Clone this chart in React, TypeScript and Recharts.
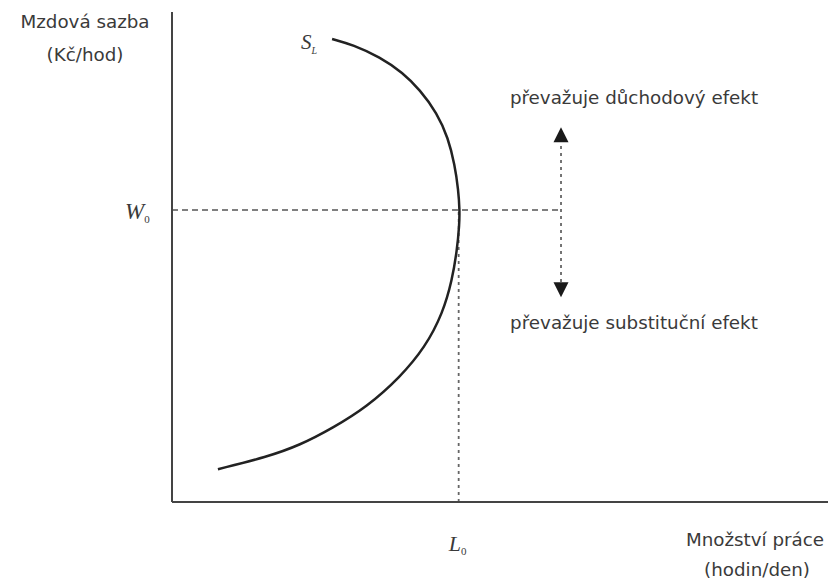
import { ComposedChart, Line, XAxis, YAxis, ReferenceLine, ReferenceDot } from 'recharts'

// backward-bending labour supply curve S_L (x = hours, y = wage)
const CURVE_X = [7.0, 14.5, 19.5, 24.5, 29.7, 34.8, 38.6, 41.3, 42.7, 43.45, 43.8, 43.85, 43.65, 43.1, 42.1, 40.4, 37.8, 35.2, 31.7, 27.6, 24.4]
const CURVE_Y = [6.7, 9.2, 11.6, 15.1, 19.4, 25.5, 31.6, 38.6, 45.3, 51.4, 56.5, 59.6, 63.7, 68.8, 74.3, 79.4, 84.1, 87.6, 90.8, 93.3, 94.5]

const W0 = 59.6
const L0 = 43.7
const ARROW_X = 59.3
const ARROW_TOP = 76.5
const ARROW_BOTTOM = 41.8
const ARROW_HEAD = 3.1

const curve = CURVE_X.map((x, i) => ({ x, y: CURVE_Y[i] }))

const INK = '#3a3a3a'
const LINE = '#222'
const SANS = '"DejaVu Sans", sans-serif'
const SERIF = '"Liberation Serif", serif'

const Triangle = ({ cx, cy, up }: { cx?: number; cy?: number; up: boolean }) => {
  if (cx == null || cy == null) return null
  const h = 15
  const w = 7.5
  const d = up
    ? `M${cx},${cy} L${cx - w},${cy + h} L${cx + w},${cy + h} Z`
    : `M${cx},${cy} L${cx - w},${cy - h} L${cx + w},${cy - h} Z`
  return <path d={d} fill="#1a1a1a" />
}

const XTick = ({ x, y }: any) => (
  <text x={x - 10} y={y + 41} fontFamily={SERIF} fontStyle="italic" fontSize={22} fill={INK}>
    L
    <tspan fontSize={11} dy={4} fontStyle="normal">0</tspan>
  </text>
)

const YTick = ({ x, y }: any) => (
  <text x={x - 39} y={y + 9} fontFamily={SERIF} fontStyle="italic" fontSize={23} fill={INK}>
    W
    <tspan fontSize={11} dy={4} fontStyle="normal">0</tspan>
  </text>
)

const text = (left: number, top: number, w: number, s: string) => (
  <div
    style={{
      position: 'absolute',
      left,
      top,
      width: w,
      textAlign: 'center',
      fontFamily: SANS,
      fontSize: 18.3,
      color: INK,
      lineHeight: '20px',
      whiteSpace: 'nowrap',
    }}
  >
    {s}
  </div>
)

export default function App() {
  return (
    <div style={{ position: 'absolute', left: 0, top: 0, width: 828, height: 581, background: '#fff' }}>
      <ComposedChart width={828} height={581} margin={{ top: 12, right: 0, left: 0, bottom: 0 }}>
        <XAxis
          type="number"
          dataKey="x"
          domain={[0, 100]}
          ticks={[L0]}
          tick={<XTick />}
          tickLine={false}
          axisLine={{ stroke: '#444', strokeWidth: 2 }}
          height={79}
        />
        <YAxis
          type="number"
          domain={[0, 100]}
          ticks={[W0]}
          tick={<YTick />}
          tickLine={false}
          axisLine={{ stroke: '#444', strokeWidth: 2 }}
          width={172}
        />
        <ReferenceLine
          segment={[{ x: 0, y: W0 }, { x: ARROW_X, y: W0 }]}
          stroke="#555"
          strokeWidth={1.5}
          strokeDasharray="6 4"
        />
        <ReferenceLine
          segment={[{ x: L0, y: 0 }, { x: L0, y: W0 }]}
          stroke="#666"
          strokeWidth={1.8}
          strokeDasharray="3 4"
        />
        <ReferenceLine
          segment={[{ x: ARROW_X, y: ARROW_BOTTOM + ARROW_HEAD }, { x: ARROW_X, y: ARROW_TOP - ARROW_HEAD }]}
          stroke="#666"
          strokeWidth={1.8}
          strokeDasharray="3 4"
        />
        <ReferenceDot x={ARROW_X} y={ARROW_TOP} shape={(p: any) => <Triangle {...p} up />} />
        <ReferenceDot x={ARROW_X} y={ARROW_BOTTOM} shape={(p: any) => <Triangle {...p} up={false} />} />
        <Line
          data={curve}
          dataKey="y"
          type="basis"
          stroke={LINE}
          strokeWidth={2.5}
          dot={false}
          activeDot={false}
          isAnimationActive={false}
        />
      </ComposedChart>

      {text(5, 12, 160, 'Mzdová sazba')}
      {text(5, 45, 160, '(Kč/hod)')}
      {text(484, 88, 300, 'převažuje důchodový efekt')}
      {text(484, 313, 300, 'převažuje substituční efekt')}
      {text(675, 530, 160, 'Množství práce')}
      {text(677, 560, 160, '(hodin/den)')}

      <div style={{ position: 'absolute', left: 301, top: 30, fontFamily: SERIF, fontStyle: 'italic', fontSize: 21, color: INK }}>
        S<span style={{ fontSize: 10, position: 'relative', top: 5 }}>L</span>
      </div>
    </div>
  )
}
